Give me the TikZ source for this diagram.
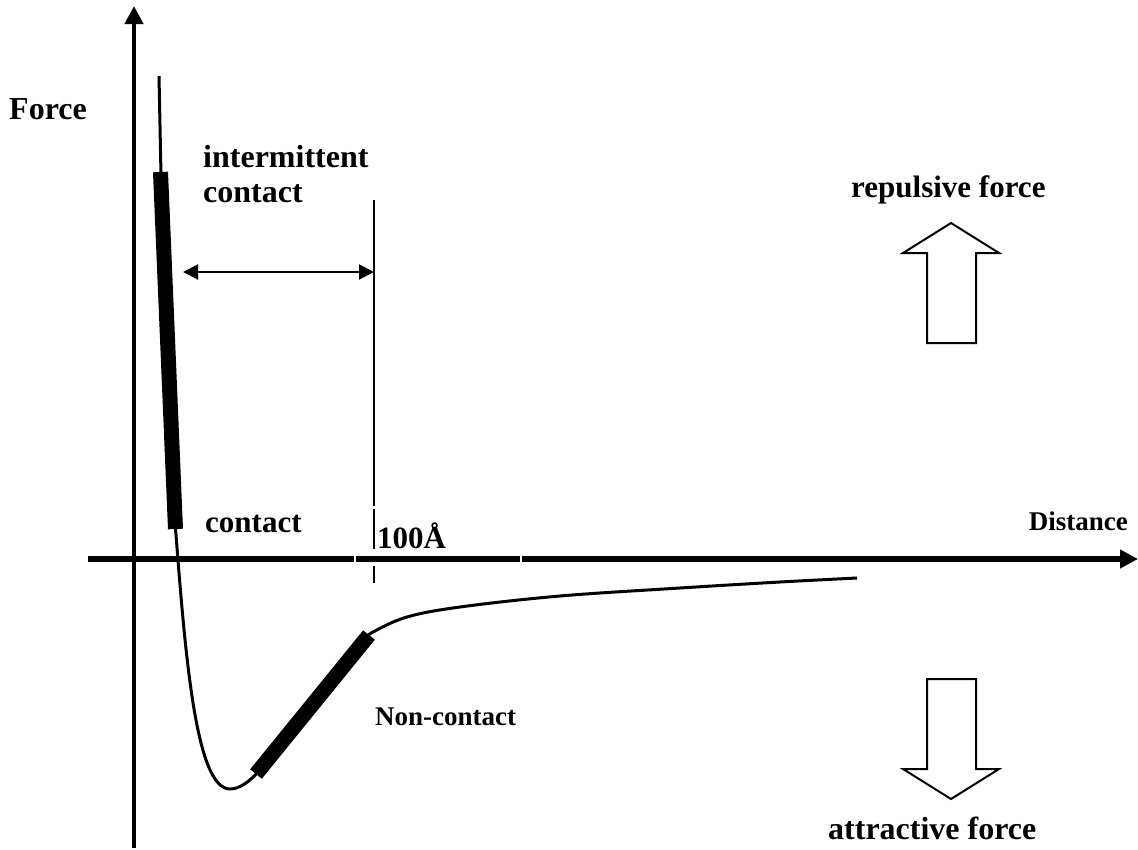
\documentclass[tikz,border=0pt]{standalone}
\usepackage{fontspec}
\setmainfont{Liberation Serif}
\usetikzlibrary{arrows.meta}
\begin{document}
\begin{tikzpicture}[x=1pt,y=-1pt,
  lbl/.style={font=\fontsize{32}{36}\selectfont\bfseries, inner sep=0pt, anchor=base west},
  lblsmall/.style={lbl, font=\fontsize{27}{31}\selectfont\bfseries},
  axisline/.style={-{Triangle[length=18pt,width=18pt]}},
  thin/.style={line width=3pt},
  band/.style={line width=15pt},
  hollow/.style={line width=2pt, line join=miter},
  rule/.style={line width=2pt}]
\useasboundingbox (0,0) rectangle (1138,849);

% axes
\coordinate (ybot) at (134,848);
\coordinate (ytop) at (134,6);
\coordinate (xleft) at (88,559);
\coordinate (xright) at (1138,559);
\draw[axisline, line width=4.5pt] (ybot) -- (ytop);
\draw[axisline, line width=5.5pt] (xleft) -- (xright);
\draw[white, line width=2pt] (354.5,554) -- (354.5,564) (521,554) -- (521,564);

% 100 A marker line
\coordinate (mtop) at (374,200);
\coordinate (mbot) at (374,583);
\draw[rule] (mtop) -- (374,506) (374,509) -- (374,549) (374,566) -- (mbot);

% intermittent contact range
\coordinate (rl) at (183,272);
\coordinate (rr) at (374,272);
\draw[rule, {Triangle[length=15pt,width=15pt]}-{Triangle[length=15pt,width=15pt]}] (rl) -- (rr);

% force curve
\draw[thin] (159,76) -- (161,175);
\draw[band] (160.5,172) -- (175.5,529);
\draw[thin] (175,522) .. controls (185,650) and (195,789) .. (230,789)
                      .. controls (240,789) and (250,781) .. (259,771);
\draw[band] (256,774) -- (369,635);
\draw[thin] plot[smooth, tension=0.6] coordinates {(366,638) (373,632) (407,617) (460,607) (560,596) (680,588) (780,582) (857,578)};

% force direction arrows
\draw[hollow] (951,223) -- (999,253) -- (976,253) -- (976,343) -- (927,343) -- (927,253) -- (903,253) -- cycle;
\draw[hollow] (927,679) -- (976,679) -- (976,769) -- (999,769) -- (951,799) -- (903,769) -- (927,769) -- cycle;

% labels
\node[lbl] (force) at (9,119) {Force};
\node[lbl] (inter) at (203,167) {intermittent};
\node[lbl] (inter2) at (203,202) {contact};
\node[lbl, font=\fontsize{31}{35}\selectfont\bfseries] (rep) at (851,197) {repulsive force};
\node[lbl, font=\fontsize{31}{35}\selectfont\bfseries] (cont) at (205,532) {contact};
\node[lbl, font=\fontsize{31}{35}\selectfont\bfseries] (ang) at (377,548) {100Å};
\node[lblsmall, anchor=base east] (dist) at (1128,530) {Distance};
\node[lblsmall] (non) at (375,725) {Non-contact};
\node[lbl] (att) at (828,839) {attractive force};
\end{tikzpicture}
\end{document}
